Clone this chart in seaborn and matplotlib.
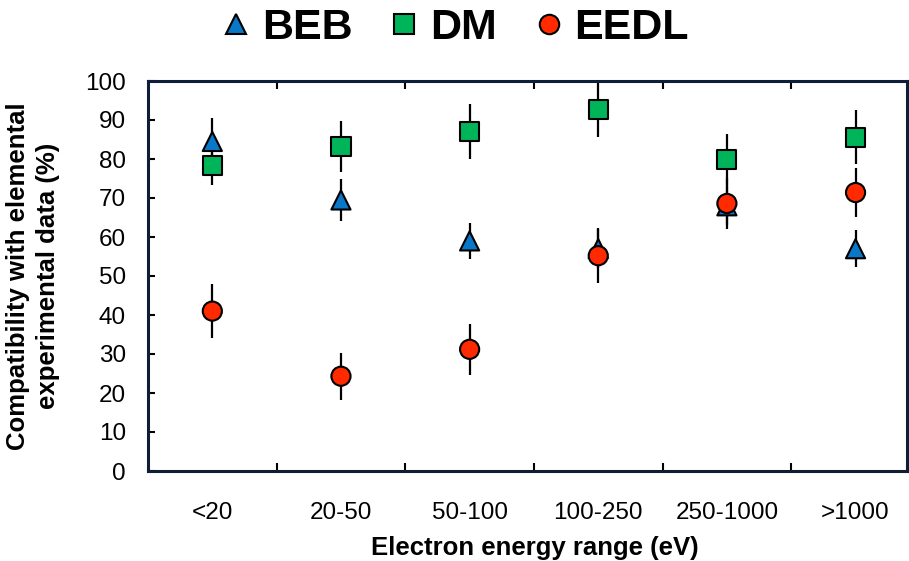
import numpy as np
import pandas as pd
import matplotlib
matplotlib.use("Agg")
import matplotlib.pyplot as plt
from matplotlib.lines import Line2D
from matplotlib.ticker import FixedLocator, NullFormatter
import seaborn as sns

categories = ["<20", "20-50", "50-100", "100-250", "250-1000", ">1000"]
models = ["BEB", "DM", "EEDL"]
beb = [84.5, 69.5, 59.0, 57.0, 68.0, 57.0]
beb_err = [6.0, 5.3, 4.7, 5.0, 5.0, 4.8]
dm = [78.3, 83.2, 87.1, 92.6, 79.8, 85.6]
dm_err = [5.0, 6.5, 7.0, 7.0, 6.5, 7.0]
eedl = [41.0, 24.3, 31.2, 55.2, 68.6, 71.4]
eedl_err = [7.0, 6.0, 6.5, 7.0, 6.5, 6.2]

colors = {"BEB": "#0a78c8", "DM": "#00b45a", "EEDL": "#ff2a00"}
markers = {"BEB": "^", "DM": "s", "EEDL": "o"}

pos = np.arange(len(categories))
df = pd.DataFrame({
    "pos": np.tile(pos, 3),
    "value": beb + dm + eedl,
    "err": beb_err + dm_err + eedl_err,
    "model": np.repeat(models, len(categories)),
})

sns.set_style("white")
plt.rcParams["font.family"] = ["Liberation Sans", "DejaVu Sans"]
plt.rcParams["text.color"] = "black"
plt.rcParams["axes.labelcolor"] = "black"
plt.rcParams["xtick.color"] = "black"
plt.rcParams["ytick.color"] = "black"

fig = plt.figure(figsize=(9.09, 5.61), dpi=100)
ax = fig.add_axes([148 / 909, 1 - 471 / 561, (907 - 148) / 909, (471 - 81) / 561])

for m in models:
    sub = df[df["model"] == m]
    ax.errorbar(sub["pos"], sub["value"], yerr=sub["err"], fmt="none",
                ecolor="black", elinewidth=1.6, capsize=0, zorder=1)

sns.scatterplot(data=df, x="pos", y="value", hue="model", style="model",
                palette=colors, markers=markers, s=190, edgecolor="black",
                linewidth=1.5, legend=False, ax=ax, zorder=3)

ax.set_xlim(-0.5, 5.4)
ax.set_ylim(0, 100)
ax.set_yticks(np.arange(0, 101, 10))
ax.tick_params(axis="y", direction="in", length=5, width=1.5, pad=16,
               labelsize=17.5, left=True, right=False, color="black",
               labelcolor="black")
ax.set_xticks(pos)
ax.set_xticklabels(categories)
ax.tick_params(axis="x", which="major", length=0, pad=22, labelsize=17.5,
               labelcolor="black")
ax.xaxis.set_minor_locator(FixedLocator(pos[:-1] + 0.5))
ax.xaxis.set_minor_formatter(NullFormatter())
ax.tick_params(axis="x", which="minor", direction="in", length=6, width=1.5,
               bottom=True, top=True, color="black")

for sp in ax.spines.values():
    sp.set_visible(True)
    sp.set_color("#0f1e38")
    sp.set_linewidth(2.2)

ax.set_xlabel("Electron energy range (eV)", fontsize=18.5, fontweight="bold",
              va="center", color="black")
ax.xaxis.set_label_coords(0.509, -0.197)
ax.set_ylabel("Compatibility with elemental\nexperimental data (%)", fontsize=18.5,
              fontweight="bold", va="center", linespacing=1.35, color="black")
ax.yaxis.set_label_coords(-0.1515, 0.5)

handles = [Line2D([], [], linestyle="none", marker=markers[m], markersize=14,
                  markerfacecolor=colors[m], markeredgecolor="black",
                  markeredgewidth=1.5) for m in models]
fig.legend(handles, models, loc="center", bbox_to_anchor=(0.503, 0.95), ncol=3,
           frameon=False, prop={"weight": "bold", "size": 31},
           handlelength=0.5, handletextpad=0.35, columnspacing=0.95,
           labelcolor="black")

fig.savefig("out.png", dpi=100)
